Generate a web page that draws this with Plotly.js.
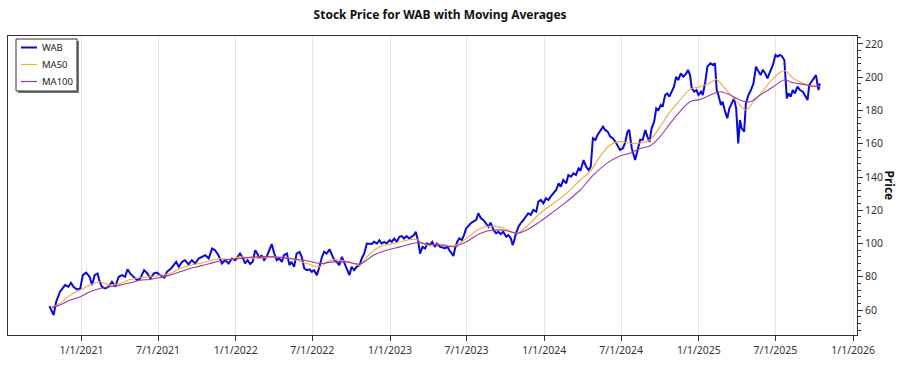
<!DOCTYPE html>
<html>
<head>
<meta charset="utf-8">
<script src="https://cdn.plot.ly/plotly-3.0.1.min.js"></script>
<style>html,body{margin:0;padding:0;background:#fff;}#chart{width:900px;height:375px;}</style>
</head>
<body>
<div id="chart"></div>
<script>
const priceDates = [
"2020-10-17","2020-10-27","2020-11-02","2020-11-11","2020-11-23","2020-12-01","2020-12-07","2020-12-13","2020-12-21","2020-12-29",
"2021-01-04","2021-01-12","2021-01-20","2021-01-26","2021-02-01","2021-02-08","2021-02-12","2021-02-18","2021-02-26","2021-03-06",
"2021-03-14","2021-03-22","2021-03-30","2021-04-07","2021-04-14","2021-04-20","2021-04-26","2021-05-04","2021-05-12","2021-05-20",
"2021-05-29","2021-06-06","2021-06-13","2021-06-21","2021-06-28","2021-07-06","2021-07-16","2021-07-22","2021-08-01","2021-08-07",
"2021-08-13","2021-08-19","2021-08-27","2021-09-03","2021-09-11","2021-09-19","2021-09-27","2021-10-05","2021-10-13","2021-10-21",
"2021-10-29","2021-11-06","2021-11-13","2021-11-21","2021-11-29","2021-12-07","2021-12-15","2021-12-23","2021-12-31",
"2022-01-11","2022-01-18","2022-01-23","2022-01-29","2022-02-04","2022-02-10","2022-02-16","2022-02-21","2022-02-26","2022-03-03",
"2022-03-09","2022-03-15","2022-03-22","2022-03-27","2022-04-02","2022-04-08","2022-04-14","2022-04-20","2022-04-25","2022-05-02",
"2022-05-08","2022-05-13","2022-05-19","2022-05-25","2022-06-01","2022-06-06","2022-06-12","2022-06-18","2022-06-24","2022-06-30",
"2022-07-05","2022-07-12","2022-07-18","2022-07-24","2022-07-29","2022-08-04","2022-08-11","2022-08-16","2022-08-22","2022-08-28",
"2022-09-03","2022-09-09","2022-09-14","2022-09-21","2022-09-27","2022-10-02","2022-10-08","2022-10-14","2022-10-21","2022-10-26",
"2022-11-01","2022-11-07","2022-11-13","2022-11-19","2022-11-24","2022-12-01","2022-12-07","2022-12-12","2022-12-18","2022-12-24",
"2022-12-31","2023-01-05","2023-01-11","2023-01-17","2023-01-23","2023-01-29","2023-02-03","2023-02-09","2023-02-15","2023-02-21",
"2023-02-26","2023-03-03","2023-03-09","2023-03-13","2023-03-19","2023-03-25","2023-03-30","2023-04-05","2023-04-11","2023-04-17",
"2023-04-22","2023-04-29","2023-05-06","2023-05-11","2023-05-17","2023-05-21","2023-05-27","2023-05-31","2023-06-04","2023-06-09",
"2023-06-14","2023-06-20","2023-06-25","2023-06-30","2023-07-05","2023-07-11","2023-07-17","2023-07-24","2023-07-29","2023-08-04",
"2023-08-10","2023-08-16","2023-08-22","2023-08-27","2023-09-03","2023-09-09","2023-09-14","2023-09-20","2023-09-26","2023-10-03",
"2023-10-08","2023-10-14","2023-10-18","2023-10-21","2023-10-26","2023-11-01","2023-11-06","2023-11-13","2023-11-19","2023-11-24",
"2023-11-30","2023-12-06","2023-12-13","2023-12-18","2023-12-24","2023-12-30","2024-01-05","2024-01-11","2024-01-16","2024-01-23",
"2024-01-29","2024-02-04","2024-02-09","2024-02-15","2024-02-22","2024-02-27","2024-03-04","2024-03-10","2024-03-16","2024-03-22",
"2024-03-27","2024-04-03","2024-04-09","2024-04-15","2024-04-20","2024-04-25","2024-05-01","2024-05-06","2024-05-12","2024-05-19",
"2024-05-24","2024-05-30","2024-06-05","2024-06-11","2024-06-17","2024-06-22","2024-06-28","2024-07-05","2024-07-10","2024-07-16",
"2024-07-20","2024-07-26","2024-07-30","2024-08-03","2024-08-08","2024-08-15","2024-08-21","2024-08-27","2024-09-01","2024-09-06",
"2024-09-11","2024-09-17","2024-09-22","2024-09-27","2024-10-03","2024-10-07","2024-10-13","2024-10-18","2024-10-23","2024-10-29",
"2024-11-03","2024-11-08","2024-11-13","2024-11-19","2024-11-25","2024-12-02","2024-12-06","2024-12-11","2024-12-15","2024-12-21",
"2024-12-26","2024-12-31","2025-01-06","2025-01-10","2025-01-16","2025-01-21","2025-01-28","2025-02-03","2025-02-08","2025-02-12",
"2025-02-16","2025-02-22","2025-02-26","2025-03-04","2025-03-09","2025-03-14","2025-03-20","2025-03-25","2025-03-30","2025-04-02",
"2025-04-04","2025-04-08","2025-04-12","2025-04-18","2025-04-22","2025-04-28","2025-05-04","2025-05-10","2025-05-16","2025-05-22",
"2025-05-27","2025-06-01","2025-06-07","2025-06-12","2025-06-19","2025-06-25","2025-07-01","2025-07-06","2025-07-11","2025-07-16",
"2025-07-22","2025-07-25","2025-07-28","2025-08-01","2025-08-06","2025-08-11","2025-08-16","2025-08-22","2025-08-28","2025-09-04",
"2025-09-09","2025-09-15","2025-09-19","2025-09-25","2025-09-30","2025-10-05","2025-10-08","2025-10-11","2025-10-14"
];
const priceValues = [
62.4,57,65,71,75,74,76.4,74,72.4,73,
81,82.5,80,75,81,82,78,74,73,74,
77,74,80,81,80,84.5,82,80,78,79,
84,82,79,82,82.5,81,79.5,83,85,87,
89,86,89,90,87.5,90,88,91,92,93,
91,97,96,93,88,90,88,91,90,
94,91.1,88,90,87.7,89,96,94,91,93,
90,92,97,99.7,94,90,91,89,93,94,
87,89,86,94,95,92,85,84,84.5,83,
84,81,86,92,95,94,96.5,93,90,89,
87,92,89,85,81,86,84,86,87,91,
94,100,100,99.7,101,100,102,100,101,100,
102,101,103,101,104,104.5,103,104.5,103,104,
105,107,101,94,98,97,100,99,101,98,
100,98.1,97.7,97.1,98.1,96.1,94.1,92.5,97.1,101.1,
103.1,102.1,105.1,109.1,110.5,112.2,113.2,114.2,118.2,115.2,
114.2,112.2,110.1,112.6,108.1,106.1,107.1,105.7,107.1,104.1,
105.1,103.1,99.1,101.1,106.1,110.1,112.2,114.2,116.2,118.2,
117.2,120.2,119.2,125.2,126.2,124.2,127.2,126.2,128.2,130.2,
132.2,136.2,134.2,138.2,136.2,141.2,140.2,142.2,141.2,145.2,
144.2,150.2,146.2,144.2,146.2,163.3,162.3,165.3,167.3,170.3,
168.3,167.3,164.3,163.3,161.3,159.3,156.3,157.3,160.3,167.3,
168.3,157.3,154.3,150.2,155.3,162.5,162.3,168.3,164.3,161.2,
169.3,173.3,181.3,180.3,183.3,182.3,189.3,190.3,188.3,191.3,
194.3,200.3,198.3,202.3,200.3,202.3,204.4,201.3,193.3,191.3,
192.3,189.3,191.3,189.3,197.3,206.4,208.4,207.4,208.4,192.3,
189.3,183.3,185.3,179.3,175.3,181.3,184.3,187.3,181.3,168.3,
160.2,174.3,169.3,167.3,184.3,189.3,192.3,196.3,206.4,203.4,
201.3,204.4,202.3,199.3,203.4,207.4,213.4,212.4,213.4,212.8,
210.4,194.3,187.3,190.3,188.3,192.3,190.3,194.3,192.3,191.3,
189.3,186.3,195.3,197.3,199.3,201.3,196.3,192.3,196.3
];

// 50-day moving average
const ma50Dates = [
"2020-10-23","2020-11-11","2020-12-05","2020-12-29","2021-01-21","2021-02-14","2021-03-09","2021-04-02","2021-04-26","2021-05-20",
"2021-06-12","2021-07-06","2021-07-29","2021-08-22","2021-09-15","2021-10-08","2021-11-01","2021-11-25","2021-12-18",
"2022-01-11","2022-02-20","2022-03-31","2022-05-09","2022-06-18","2022-07-19","2022-08-12","2022-09-05","2022-10-06","2022-10-22",
"2022-11-07","2022-12-08","2023-01-09","2023-02-10","2023-03-05","2023-03-29",
"2023-04-29","2023-05-31","2023-07-01","2023-08-02","2023-09-03","2023-10-04","2023-10-28","2023-11-20","2023-12-22","2024-01-23",
"2024-02-23","2024-03-26","2024-04-18","2024-05-12","2024-06-05","2024-06-28","2024-07-22",
"2024-08-15","2024-09-07","2024-10-01","2024-10-25","2024-11-17","2024-12-11","2025-01-04","2025-01-28","2025-02-11","2025-02-28",
"2025-03-24","2025-04-08","2025-04-22","2025-05-10","2025-06-03","2025-06-26","2025-07-22","2025-08-12","2025-09-05","2025-09-29","2025-10-14"
];
const ma50Values = [
61.6,64,69,72,75,77,75,76,78.4,79.6,
80,81,82,85,87,88,89.7,91,90.5,
92,91,92,91,88,86,90,90,88,87,
92,98,100,102,102.5,99,
99.7,98.5,103.1,109.1,110.5,108.5,106.1,110.1,118.2,124.2,
130.2,138.2,143.2,152.3,159.3,161.3,160.3,
160.5,162.3,170.3,179.3,186.3,192.7,194.3,196.7,198.7,194.3,
187.3,183.3,180.3,185.3,192.3,199.3,204,199.3,196.3,194.3,194.7
];

// 100-day moving average
const ma100Dates = [
"2020-10-23","2020-11-11","2020-12-05","2020-12-29","2021-01-21","2021-02-14","2021-03-09","2021-04-02","2021-04-26","2021-05-20",
"2021-06-12","2021-07-06","2021-07-29","2021-08-22","2021-09-15","2021-10-08","2021-11-01","2021-11-25","2021-12-18",
"2022-01-11","2022-02-20","2022-03-31","2022-05-09","2022-06-18","2022-07-19","2022-08-20","2022-09-21","2022-10-22","2022-11-23",
"2022-12-24","2023-01-25","2023-03-05","2023-03-29",
"2023-04-29","2023-05-31","2023-07-01","2023-08-02","2023-09-03","2023-10-04","2023-10-28","2023-11-20","2023-12-22","2024-01-23",
"2024-02-23","2024-03-26","2024-04-26","2024-05-28","2024-06-28","2024-07-22",
"2024-08-15","2024-09-07","2024-10-01","2024-10-25","2024-11-17","2024-12-11","2025-01-04","2025-01-28","2025-02-20","2025-03-16",
"2025-04-08","2025-05-02","2025-05-26","2025-06-26","2025-07-22","2025-08-12","2025-09-05","2025-09-29","2025-10-14"
];
const ma100Values = [
61.6,63,66,68,71,73,74,75,76.4,78,
78.4,79.6,81,83,85,86.4,88,89.7,90.5,
91,92,92,91,89.7,88,89,89,87.7,93,
96,98,100.5,99.7,
99.1,98.1,101.1,106.1,108.1,107.7,106.1,108.1,113.2,119.2,
125.2,132.2,141.2,148.2,152.7,154.3,
157.2,158.6,164.3,172.3,179.3,185.3,186.7,189.3,191.3,189.3,
186.3,185.3,189.3,194.3,198.3,196.7,195.7,194.7,194.3
];

const seriesNames = ["WAB", "MA50", "MA100"];
const seriesColors = ["#0a0ad8", "#f0aa38", "#9a3aa8"];
const xTickStart = "2021-01-01";

const traces = [
  {x: priceDates, y: priceValues, name: seriesNames[0], type: "scatter", mode: "lines",
   line: {color: seriesColors[0], width: 2}},
  {x: ma50Dates, y: ma50Values, name: seriesNames[1], type: "scatter", mode: "lines",
   line: {color: seriesColors[1], width: 1.1, shape: "spline"}},
  {x: ma100Dates, y: ma100Values, name: seriesNames[2], type: "scatter", mode: "lines",
   line: {color: seriesColors[2], width: 1.1, shape: "spline"}}
];

// plot area in pixels: left 8, right 857, top 36, bottom 335
const W = 900, H = 375, L = 8, R = 857, T = 36, B = 335;
const px = v => (v - L) / (R - L);
const py = v => (B - v) / (B - T);

const font = "Noto Sans, Open Sans, sans-serif";
const shapes = [
  // legend shadow and box
  {type: "rect", xref: "paper", yref: "paper", x0: px(18), x1: px(79), y0: py(41), y1: py(93),
   fillcolor: "#777", line: {width: 0}, layer: "above"},
  {type: "rect", xref: "paper", yref: "paper", x0: px(16), x1: px(77), y0: py(39), y1: py(91),
   fillcolor: "#fff", line: {color: "#333", width: 1}, layer: "above"}
];
const annotations = [
  {text: "<b>Price</b>", xref: "paper", yref: "paper", x: 1 + (889 - R) / (R - L), y: 0.5,
   xanchor: "center", yanchor: "middle", textangle: 90, showarrow: false,
   font: {family: font, size: 12, color: "#111"}}
];
const legendRows = [47.5, 64.5, 81.5];
seriesNames.forEach((n, i) => {
  shapes.push({type: "line", xref: "paper", yref: "paper", x0: px(21), x1: px(37), y0: py(legendRows[i]), y1: py(legendRows[i]),
               line: {color: seriesColors[i], width: i === 0 ? 2 : 1.2}, layer: "above"});
  annotations.push({text: n, xref: "paper", yref: "paper", x: px(40), y: py(legendRows[i]), xanchor: "left", yanchor: "middle",
                    showarrow: false, font: {family: font, size: 9.5, color: "#222"}});
});

const layout = {
  width: W, height: H,
  margin: {l: L, r: W - R, t: T, b: H - B},
  paper_bgcolor: "#ffffff", plot_bgcolor: "#ffffff",
  font: {family: font, size: 10.5, color: "#333"},
  title: {text: "<b>Stock Price for WAB with Moving Averages</b>", font: {family: font, size: 12, color: "#111"},
          xref: "container", x: 0.489, xanchor: "center", yref: "container", y: 0.96, yanchor: "middle"},
  showlegend: false,
  xaxis: {type: "date", range: ["2020-07-11", "2026-01-10"], tick0: xTickStart, dtick: "M6", tickformat: "%-m/%-d/%Y",
          showgrid: true, gridcolor: "#e4e4e4", gridwidth: 1, zeroline: false,
          showline: true, linecolor: "#333", linewidth: 1, mirror: true,
          ticks: "outside", ticklen: 5, tickcolor: "#333", tickfont: {family: font, size: 10.5, color: "#333"}},
  yaxis: {range: [45, 224.8], side: "right", dtick: 20, tick0: 0, showgrid: false, zeroline: false,
          showline: true, linecolor: "#333", linewidth: 1, mirror: true,
          ticks: "outside", ticklen: 5, tickcolor: "#333", tickfont: {family: font, size: 10.5, color: "#333"},
          minor: {dtick: 4, ticks: "outside", ticklen: 3, tickcolor: "#333", showgrid: false}},
  shapes: shapes,
  annotations: annotations
};

Plotly.newPlot("chart", traces, layout, {displayModeBar: false, staticPlot: true});
</script>
</body>
</html>
